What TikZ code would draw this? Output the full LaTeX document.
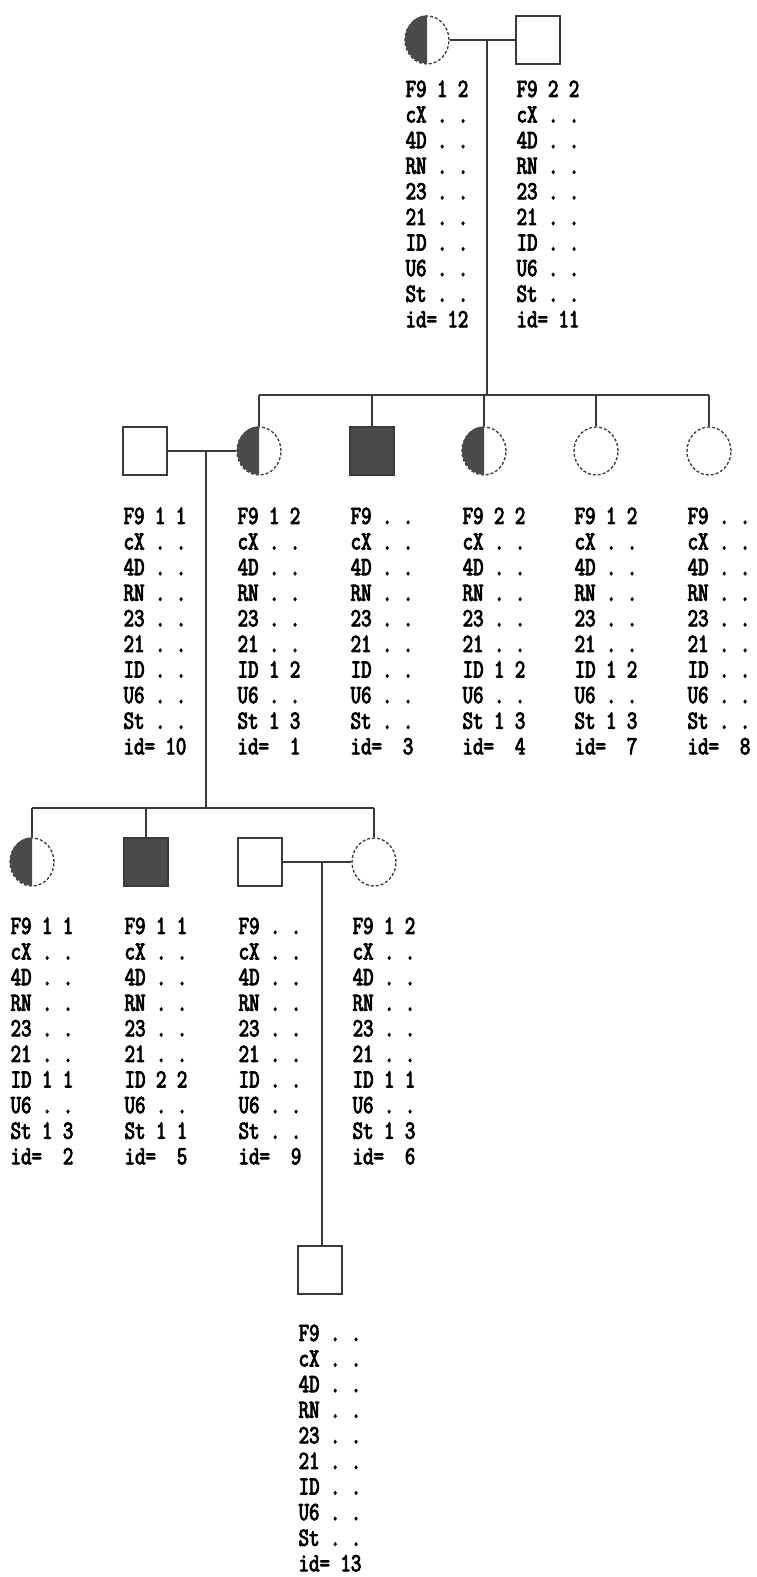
\documentclass[tikz,border=0pt]{standalone}
\usepackage{fontspec}
\usetikzlibrary{shapes.geometric}
\newfontfamily\dotfont{Latin Modern Mono}[FakeStretch=0.78, FakeBold=3.5]
\definecolor{cline}{HTML}{3A3A3A}
\definecolor{cshade}{HTML}{4A4A4A}
\tikzset{
  every picture/.style={line width=1.3pt},
  line/.style={draw=cline},
  male/.style={draw=cline, rectangle, minimum width=44pt, minimum height=48pt, inner sep=0pt},
  female/.style={draw=cline, ellipse, minimum width=44pt, minimum height=48pt, inner sep=0pt, densely dashed},
  affected/.style={fill=cshade},
  typing/.style={font=\dotfont\fontsize{26pt}{25.6pt}\selectfont, align=left, inner sep=0pt, anchor=north west},
}
% marker table: only F9, ID and St carry alleles here
\newcommand{\typing}[4]{F9~#1\\cX~.~.\\4D~.~.\\RN~.~.\\23~.~.\\21~.~.\\ID~#2\\U6~.~.\\St~#3\\id=~#4}
\newcommand{\halffill}[1]{\fill[cshade] (#1.north) arc[start angle=90, end angle=270, x radius=22pt, y radius=24pt] -- cycle;}

\begin{document}
\begin{tikzpicture}[x=1pt, y=-1pt]
  \useasboundingbox (0,0) rectangle (756,1577);
  % ---------- founders
  \node[female] (p12) at (427,40) {};
  \node[male] (p11) at (538,40) {};
  \halffill{p12}
  \coordinate (m12) at (487,40);
  \coordinate (sib2) at (487,395);
  \draw[line] (p12) -- (p11);
  \draw[line] (m12) -- (sib2);
  \node[typing] (t12) at (405,80) {\typing{1~2}{.~.}{.~.}{12}};
  \node[typing] (t11) at (516,80) {\typing{2~2}{.~.}{.~.}{11}};
  % ---------- second generation
  \node[male] (p10) at (145,451) {};
  \node[female] (p1) at (259,451) {};
  \node[male, affected] (p3) at (372,451) {};
  \node[female] (p4) at (484,451) {};
  \node[female] (p7) at (596,451) {};
  \node[female] (p8) at (709,451) {};
  \halffill{p1} \halffill{p4}
  \draw[line] (p1.north |- sib2) -- (p8.north |- sib2);
  \foreach \k in {1,3,4,7,8} \draw[line] (p\k.north |- sib2) -- (p\k.north);
  \coordinate (m10) at (206,451);
  \coordinate (sib3) at (206,808);
  \draw[line] (p10) -- (p1);
  \draw[line] (m10) -- (sib3);
  \node[typing] (t10) at (123,507) {\typing{1~1}{.~.}{.~.}{10}};
  \node[typing] (t1) at (237,507) {\typing{1~2}{1~2}{1~3}{~1}};
  \node[typing] (t3) at (350,507) {\typing{.~.}{.~.}{.~.}{~3}};
  \node[typing] (t4) at (462,507) {\typing{2~2}{1~2}{1~3}{~4}};
  \node[typing] (t7) at (574,507) {\typing{1~2}{1~2}{1~3}{~7}};
  \node[typing] (t8) at (687,507) {\typing{.~.}{.~.}{.~.}{~8}};
  % ---------- third generation
  \node[female] (p2) at (32,862) {};
  \node[male, affected] (p5) at (146,862) {};
  \node[male] (p9) at (260,862) {};
  \node[female] (p6) at (374,862) {};
  \halffill{p2}
  \draw[line] (p2.north |- sib3) -- (p6.north |- sib3);
  \foreach \k in {2,5,6} \draw[line] (p\k.north |- sib3) -- (p\k.north);
  \coordinate (m9) at (322,862);
  \draw[line] (p9) -- (p6);
  \node[typing] (t2) at (10,917) {\typing{1~1}{1~1}{1~3}{~2}};
  \node[typing] (t5) at (124,917) {\typing{1~1}{2~2}{1~1}{~5}};
  \node[typing] (t9) at (238,917) {\typing{.~.}{.~.}{.~.}{~9}};
  \node[typing] (t6) at (352,917) {\typing{1~2}{1~1}{1~3}{~6}};
  % ---------- fourth generation
  \node[male] (p13) at (320,1270) {};
  \draw[line] (m9) -- (m9 |- p13.north);
  \node[typing] (t13) at (298,1324) {\typing{.~.}{.~.}{.~.}{13}};
\end{tikzpicture}
\end{document}
